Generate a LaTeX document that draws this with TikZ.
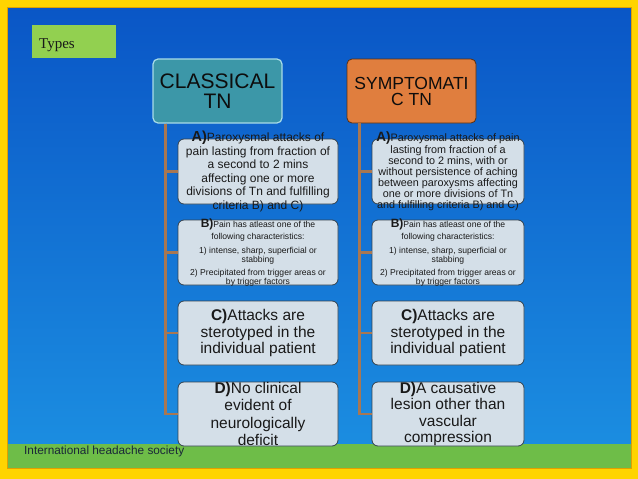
\documentclass[tikz,border=0pt]{standalone}
\usepackage{fontspec}
\setmainfont{Liberation Sans}
\newfontfamily\typesfont{Liberation Serif}
\definecolor{frameY}{HTML}{FFD400}
\definecolor{frameO}{HTML}{E0A000}
\definecolor{bgtop}{HTML}{0A56C6}
\definecolor{bgbot}{HTML}{1C90E2}
\definecolor{barG}{HTML}{6EBD48}
\definecolor{typesG}{HTML}{92D050}
\definecolor{tealH}{HTML}{3C97A8}
\definecolor{tealB}{HTML}{A8DCE8}
\definecolor{orngH}{HTML}{E07E3E}
\definecolor{orngB}{HTML}{5A3010}
\definecolor{boxF}{HTML}{D4DFE8}
\definecolor{boxB}{HTML}{34424E}
\definecolor{connC}{HTML}{A87752}
\definecolor{footC}{HTML}{1A2838}
\tikzset{
  hdr/.style={minimum width=129pt, minimum height=64pt, rounded corners=5pt, inner sep=0pt, align=center, text=black!95},
  ibox/.style={fill=boxF, draw=boxB, line width=0.8pt, rounded corners=6pt, inner sep=0pt, minimum height=65pt},
  ltext/.style={align=center, inner sep=0pt, text=black!90},
  conn/.style={draw=connC, line width=2.6pt},
}
\begin{document}
\begin{tikzpicture}[x=1pt,y=-1pt]
\useasboundingbox (0,0) rectangle (638,479);
% frame and background
\fill[frameY] (0,0) rectangle (638,479);
\shade[top color=bgtop, bottom color=bgbot] (7,7) rectangle (631,468);
\fill[barG] (7,444) rectangle (631,468);
\draw[frameO, line width=1pt] (7,7) rectangle (631,468);
% Types label
\node[fill=typesG, minimum width=84pt, minimum height=33pt, anchor=north west, inner sep=0pt] (ty) at (32,25) {};
\node[anchor=base west, inner sep=0pt, font=\typesfont\fontsize{15}{15}\selectfont, text=black!90] (tyt) at (39,48) {Types};
% headers
\node[hdr, fill=tealH, draw=tealB, line width=1.2pt, font=\fontsize{21}{20}\selectfont] (cl) at (217.5,91) {CLASSICAL\\TN};
\node[hdr, fill=orngH, draw=orngB, line width=0.8pt, font=\fontsize{17.5}{16}\selectfont] (sy) at (411.5,91) {SYMPTOMATI\\C TN};
% classical boxes
\node[ibox, minimum width=160pt] (ca) at (258,171.5) {};
\node[ibox, minimum width=160pt] (cb) at (258,252.5) {};
\node[ibox, minimum width=160pt, minimum height=64pt] (cc) at (258,333) {};
\node[ibox, minimum width=160pt, minimum height=64pt] (cd) at (258,414) {};
% symptomatic boxes
\node[ibox, minimum width=152pt] (sa) at (448,171.5) {};
\node[ibox, minimum width=152pt] (sb) at (448,252.5) {};
\node[ibox, minimum width=152pt, minimum height=64pt] (sc) at (448,333) {};
\node[ibox, minimum width=152pt, minimum height=64pt] (sd) at (448,414) {};
% connectors
\foreach \b in {ca,cb,cc,cd} \draw[conn] ([xshift=13pt]cl.south west) |- (\b.west);
\foreach \b in {sa,sb,sc,sd} \draw[conn] ([xshift=13pt]sy.south west) |- (\b.west);
% texts classical
\node[ltext, font=\fontsize{12}{13.6}\selectfont] (cat) at (ca.center) {{\bfseries\fontsize{14.5}{13.6}\selectfont A)}Paroxysmal attacks of\\pain lasting from fraction of\\a second to 2 mins\\affecting one or more\\divisions of Tn and fulfilling\\criteria B) and C)};
\node[ltext, font=\fontsize{8.6}{8.5}\selectfont] (cbt) at (cb.center) {{\bfseries\fontsize{12}{8.5}\selectfont B)}Pain has atleast one of the\\[2pt]following characteristics:\\[5.5pt]1) intense, sharp, superficial or\\stabbing\\[5pt]2) Precipitated from trigger areas or\\by trigger factors};
\node[ltext, font=\fontsize{15.5}{16.5}\selectfont] (cct) at (cc.center) {\textbf{C)}Attacks are\\sterotyped in the\\individual patient};
\node[ltext, font=\fontsize{15.5}{17.3}\selectfont] (cdt) at (cd.center) {\textbf{D)}No clinical\\evident of\\neurologically\\deficit};
% texts symptomatic
\node[ltext, font=\fontsize{10.8}{11.1}\selectfont] (sat) at (sa.center) {{\bfseries\fontsize{13.5}{11.1}\selectfont A)}Paroxysmal attacks of pain\\lasting from fraction of a\\second to 2 mins, with or\\without persistence of aching\\between paroxysms affecting\\one or more divisions of Tn\\and fulfilling criteria B) and C)};
\node[ltext, font=\fontsize{8.6}{8.5}\selectfont] (sbt) at (sb.center) {{\bfseries\fontsize{12}{8.5}\selectfont B)}Pain has atleast one of the\\[2pt]following characteristics:\\[5.5pt]1) intense, sharp, superficial or\\stabbing\\[5pt]2) Precipitated from trigger areas or\\by trigger factors};
\node[ltext, font=\fontsize{15.5}{16.5}\selectfont] (sct) at (sc.center) {\textbf{C)}Attacks are\\sterotyped in the\\individual patient};
\node[ltext, font=\fontsize{15.5}{16.3}\selectfont] (sdt) at (sd.center) {\textbf{D)}A causative\\lesion other than\\vascular\\compression};
% footer
\node[anchor=base west, inner sep=0pt, font=\fontsize{11.8}{12}\selectfont, text=footC] (ft) at (24,454) {International headache society};
\end{tikzpicture}
\end{document}
